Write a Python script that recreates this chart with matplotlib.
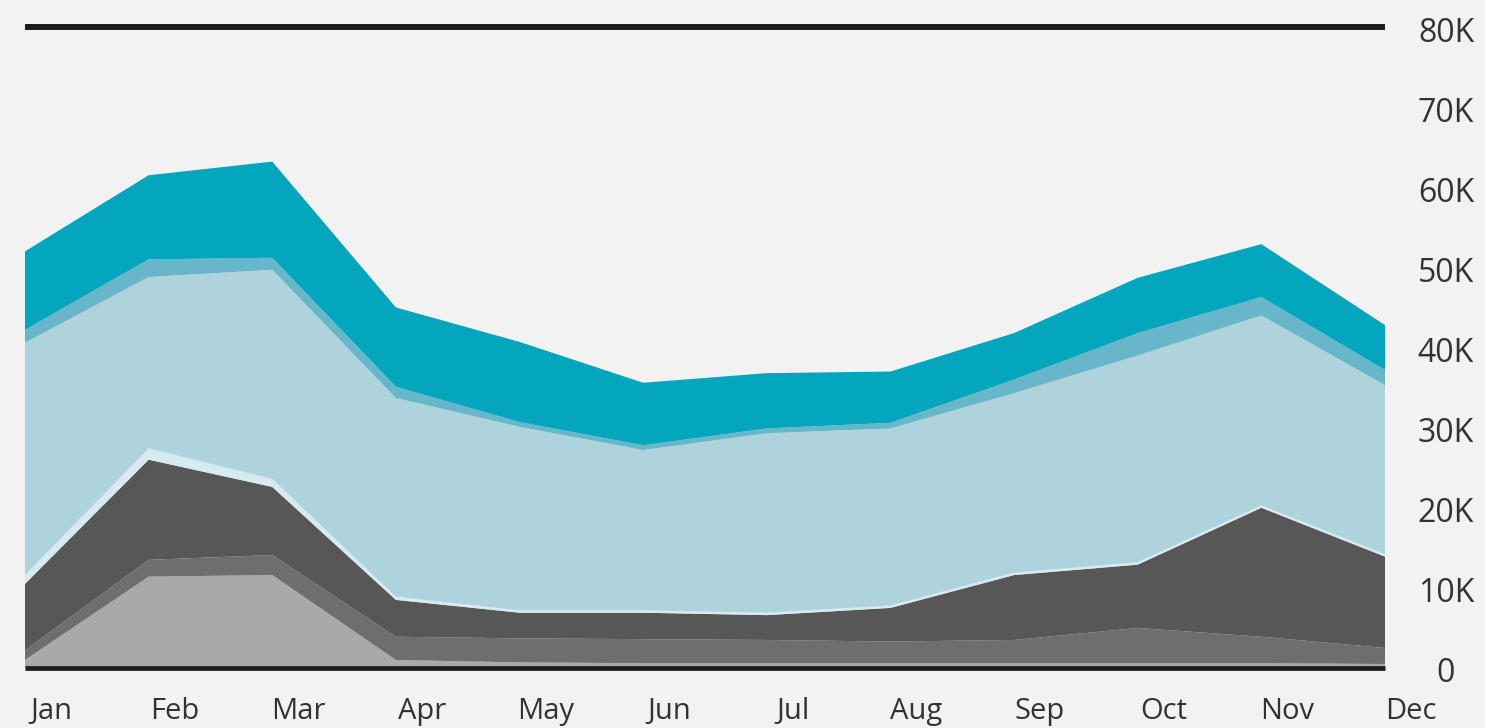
import numpy as np
import matplotlib.pyplot as plt
import matplotlib.transforms as mtransforms

months = ["Jan", "Feb", "Mar", "Apr", "May", "Jun",
          "Jul", "Aug", "Sep", "Oct", "Nov", "Dec"]

# stacked layers, bottom to top (thousands)
light_grey = [1.0, 11.4, 11.6, 1.0, 0.7, 0.6, 0.6, 0.6, 0.6, 0.6, 0.6, 0.5]
mid_grey = [1.2, 2.1, 2.5, 2.9, 3.0, 3.0, 2.9, 2.7, 2.9, 4.4, 3.3, 2.0]
dark_grey = [8.3, 12.5, 8.5, 4.6, 3.2, 3.3, 3.1, 4.2, 8.1, 7.9, 16.1, 11.4]
pale_blue = [1.1, 1.4, 1.0, 0.4, 0.3, 0.3, 0.3, 0.3, 0.3, 0.3, 0.3, 0.3]
light_blue = [29.0, 21.4, 26.1, 24.8, 22.9, 20.0, 22.4, 22.1, 22.4, 25.8, 23.7, 21.1]
mid_blue = [1.6, 2.2, 1.5, 1.4, 0.6, 0.6, 0.6, 0.7, 1.7, 2.8, 2.3, 1.9]
teal = [9.8, 10.5, 12.0, 9.9, 10.0, 7.8, 6.9, 6.4, 5.8, 6.9, 6.6, 5.6]

yticks = [0, 10, 20, 30, 40, 50, 60, 70, 80]
ylabels = ["0", "10K", "20K", "30K", "40K", "50K", "60K", "70K", "80K"]

colors = ["#a9a9a9", "#6e6e6e", "#575757", "#d6eaf0",
          "#afd3dd", "#68b6c9", "#03a6bd"]

W, H = 1485, 728
fig = plt.figure(figsize=(W / 100, H / 100), dpi=100, facecolor="#f2f2f2")
ax = fig.add_axes([25 / W, (H - 668) / H, (1385 - 25) / W, (668 - 27) / H])
ax.set_facecolor("#f2f2f2")

x = np.arange(len(months))
layers = [light_grey, mid_grey, dark_grey, pale_blue, light_blue, mid_blue, teal]
layers = [np.array(l) * 1000 for l in layers]
ax.stackplot(x, *layers, colors=colors, linewidth=0)

ax.axhline(80000, color="#1c1c1c", lw=4.3, solid_capstyle="butt", clip_on=False)
ax.axhline(0, color="#1c1c1c", lw=3.4, solid_capstyle="butt", clip_on=False)

ax.set_xlim(0, 11)
ax.set_ylim(0, 80000)
ax.axis("off")

font = "Open Sans"
# y labels on the right, slightly below the value
ytrans = mtransforms.blended_transform_factory(fig.transFigure, ax.transData)
ytrans = ytrans + mtransforms.ScaledTranslation(0, -6 / 100, fig.dpi_scale_trans)
for v, lab in zip(yticks, ylabels):
    ax.text(1446 / W, v * 1000, lab, transform=ytrans, ha="center", va="center",
            fontsize=23, color="#333333", family=font, clip_on=False)

# month labels under the plot
xtrans = mtransforms.blended_transform_factory(ax.transData, fig.transFigure)
for i, m in enumerate(months):
    ax.text(i + 0.21, 2 / H, m, transform=xtrans, ha="center", va="bottom",
            fontsize=21, color="#333333", family=font, clip_on=False)

fig.savefig("out.png", dpi=100, facecolor=fig.get_facecolor())
